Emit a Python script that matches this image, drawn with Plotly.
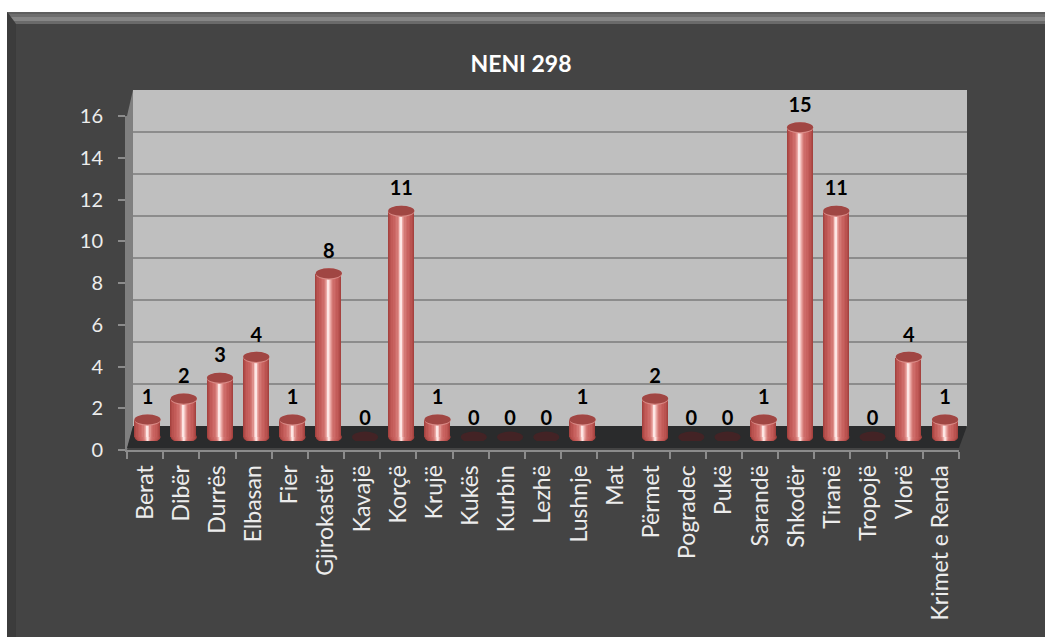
import plotly.graph_objects as go

categories = ["Berat", "Dibër", "Durrës", "Elbasan", "Fier", "Gjirokastër", "Kavajë", "Korçë", "Krujë", "Kukës",
              "Kurbin", "Lezhë", "Lushnje", "Mat", "Përmet", "Pogradec", "Pukë", "Sarandë", "Shkodër", "Tiranë",
              "Tropojë", "Vlorë", "Krimet e Renda"]
values = [1, 2, 3, 4, 1, 8, 0, 11, 1, 0, 0, 0, 1, None, 2, 0, 0, 1, 15, 11, 0, 4, 1]
y_ticks = [0, 2, 4, 6, 8, 10, 12, 14, 16]
title_text = "NENI 298"

W, H = 1045, 637
FONT = "Lato"
PANEL = "#444444"
TXT = "#ececec"


def px(x):
    return x / W


def py(y):
    return 1 - y / H


def poly(points, fill):
    d = "M " + " L ".join(f"{px(x):.5f},{py(y):.5f}" for x, y in points) + " Z"
    return dict(type="path", path=d, xref="paper", yref="paper", fillcolor=fill, line_width=0, layer="below")


shapes = [
    poly([(7, 12), (W, 12), (W, H), (7, H)], PANEL),
    poly([(7, 12), (16, 24), (16, H), (7, H)], "#3c3c3c"),
    poly([(7, 12), (W, 12), (W, 14), (9, 14)], "#5e5e5e"),
    poly([(9, 14), (W, 14), (W, 17), (11, 17)], "#6e6e6e"),
    poly([(11, 17), (W, 17), (W, 21), (14, 21)], "#868686"),
    poly([(14, 21), (W, 21), (W, 24), (16, 24)], "#6a6a6a"),
    poly([(133, 90), (967, 90), (967, 427), (133, 427)], "#bfbfbf"),
    poly([(127, 116), (133, 90), (133, 427), (127, 450)], "#808080"),
    poly([(133, 426), (967, 426), (959, 448), (127, 448)], "#2a2b2c"),
]

# cylinder shading: nested bars, widest first
shade_widths = [1.0, 0.92, 0.84, 0.72, 0.60, 0.48, 0.36, 0.26, 0.18, 0.12, 0.06]
shade_colors = ["#a5423f", "#b04b48", "#ba5350", "#c25b58", "#c8625f", "#cd6b68",
                "#d37773", "#df8f8b", "#eba9a6", "#f5c8c5", "#fde6e4"]
BAR_W = 0.72          # in category units
BASE = 0.18           # bars stand slightly behind the floor's front edge
CAP_H = 0.27          # half height of an end ellipse, in value units

fig = go.Figure()

# back wall gridlines (x,y), front axes (x2,y2), columns (x3,y3)
fig.add_trace(go.Scatter(x=categories, y=values, mode="none", xaxis="x", yaxis="y",
                         showlegend=False, hoverinfo="skip"))
fig.add_trace(go.Scatter(x=categories, y=values, mode="none", xaxis="x2", yaxis="y2",
                         showlegend=False, hoverinfo="skip"))

bar_vals = [None if v in (None, 0) else v - BASE for v in values]
bar_base = [BASE] * len(values)
for w, c in zip(shade_widths, shade_colors):
    fig.add_trace(go.Bar(x=categories, y=bar_vals, base=bar_base, width=BAR_W * w, xaxis="x3", yaxis="y3",
                         marker=dict(color=c, line_width=0), showlegend=False, hoverinfo="skip"))

for i, v in enumerate(values):
    if v is None:
        continue
    half = BAR_W / 2
    if v == 0:
        shapes.append(dict(type="circle", xref="x3", yref="y3", x0=i - half, x1=i + half,
                           y0=BASE - CAP_H, y1=BASE + CAP_H, fillcolor="#432325", line_width=0, layer="below"))
        continue
    for w, c in zip(shade_widths, shade_colors):
        shapes.append(dict(type="circle", xref="x3", yref="y3", x0=i - half * w, x1=i + half * w,
                           y0=BASE - CAP_H, y1=BASE + CAP_H, fillcolor=c, line_width=0, layer="below"))
    shapes.append(dict(type="circle", xref="x3", yref="y3", x0=i - half, x1=i + half,
                       y0=v - CAP_H, y1=v + CAP_H, fillcolor="#d98a86", line_width=0, layer="above"))
    shapes.append(dict(type="circle", xref="x3", yref="y3", x0=i - half, x1=i + half,
                       y0=v - CAP_H + 0.06, y1=v + CAP_H, fillcolor="#a04643", line_width=0, layer="above"))

fig.add_trace(go.Scatter(x=[c for c, v in zip(categories, values) if v is not None],
                         y=[v for v in values if v is not None],
                         text=[str(v) for v in values if v is not None],
                         mode="markers+text", textposition="top center", xaxis="x3", yaxis="y3",
                         marker=dict(size=16, opacity=0), cliponaxis=False,
                         textfont=dict(family=FONT, size=20, color="#000000", weight="bold"),
                         showlegend=False, hoverinfo="skip"))

hidden = dict(visible=False, fixedrange=True, automargin=False)
n = len(categories)
cat_range = [-0.5, n - 0.5]

fig.update_layout(
    template="none",
    width=W, height=H, margin=dict(l=0, r=0, t=0, b=0, pad=0, autoexpand=False),
    paper_bgcolor="#ffffff", plot_bgcolor="rgba(0,0,0,0)",
    barmode="overlay", bargap=0, shapes=shapes, showlegend=False,
    title=dict(text=title_text, x=521 / W, y=py(64), xref="paper", yref="paper", xanchor="center", yanchor="middle",
               font=dict(family=FONT, size=23, color="#ffffff", weight="bold")),
    xaxis=dict(type="category", categoryorder="array", categoryarray=categories, range=cat_range,
               domain=[px(133), px(967)], anchor="y", **hidden),
    yaxis=dict(range=[0, 16], tickvals=y_ticks, domain=[py(426), py(90)], anchor="x", showgrid=True,
               gridcolor="#8c8c8c", gridwidth=2, zeroline=False, showticklabels=False, ticks="",
               showline=False, fixedrange=True, automargin=False),
    xaxis2=dict(type="category", categoryorder="array", categoryarray=categories, range=cat_range,
                domain=[px(127), px(959)], anchor="y2", side="bottom", tickmode="array", tickvals=categories,
                ticktext=categories, tickson="boundaries", ticks="outside", ticklen=7, tickwidth=2, tickcolor="#8c8c8c",
                showline=True, linecolor="#8c8c8c", linewidth=2, showgrid=False, tickangle=-90, automargin=False,
                ticklabelstandoff=4, tickfont=dict(family=FONT, size=23, color=TXT), fixedrange=True),
    yaxis2=dict(range=[0, 16], tickvals=y_ticks, domain=[py(450), py(116)], anchor="x2", side="left",
                ticks="outside", ticklen=7, tickwidth=2, tickcolor="#8c8c8c", showline=True, linecolor="#808080",
                linewidth=2, showgrid=False, zeroline=False, ticklabelstandoff=11, automargin=False,
                tickfont=dict(family=FONT, size=20, color=TXT), fixedrange=True),
    xaxis3=dict(type="category", categoryorder="array", categoryarray=categories, range=cat_range,
                domain=[px(129.4), px(963.2)], anchor="y3", **hidden),
    yaxis3=dict(range=[0, 16], domain=[py(441), py(107)], anchor="x3", **hidden),
)

fig.write_html("out.html", config=dict(displayModeBar=False),
               post_script="document.body.style.margin='0';document.documentElement.style.overflow='hidden';")
